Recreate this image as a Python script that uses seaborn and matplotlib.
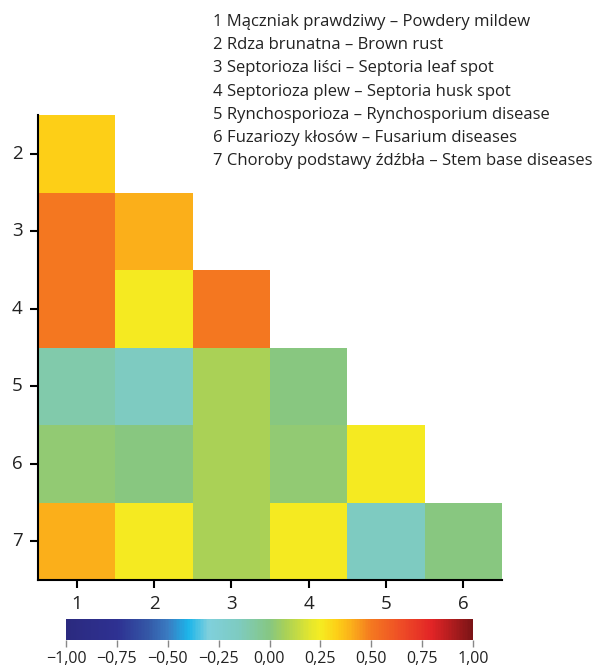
import numpy as np
import pandas as pd
import seaborn as sns
import matplotlib.pyplot as plt
from matplotlib.colors import LinearSegmentedColormap
from matplotlib.ticker import FuncFormatter

# correlation values (rows 2..7 vs columns 1..6), lower triangle only
rows = ["2", "3", "4", "5", "6", "7"]
cols = ["1", "2", "3", "4", "5", "6"]
r2 = [0.33]
r3 = [0.50, 0.40]
r4 = [0.50, 0.25, 0.50]
r5 = [-0.10, -0.15, 0.08, 0.00]
r6 = [0.03, 0.00, 0.08, 0.03, 0.25]
r7 = [0.40, 0.25, 0.08, 0.25, -0.15, 0.00]

legend_lines = [
    "1 Mączniak prawdziwy – Powdery mildew",
    "2 Rdza brunatna – Brown rust",
    "3 Septorioza liści – Septoria leaf spot",
    "4 Septorioza plew – Septoria husk spot",
    "5 Rynchosporioza – Rynchosporium disease",
    "6 Fuzariozy kłosów – Fusarium diseases",
    "7 Choroby podstawy źdźbła – Stem base diseases",
]
cbar_ticks = [-1.0, -0.75, -0.5, -0.25, 0.0, 0.25, 0.5, 0.75, 1.0]

mat = np.full((6, 6), np.nan)
for i, r in enumerate([r2, r3, r4, r5, r6, r7]):
    mat[i, :len(r)] = r
df = pd.DataFrame(mat, index=rows, columns=cols)

# jet-like palette as in the figure
anchors = [
    (-1.00, "#2b2a7f"), (-0.75, "#2e3192"), (-0.60, "#3457a6"),
    (-0.50, "#3a7cc2"), (-0.40, "#1cb5ea"), (-0.30, "#7fd0dc"),
    (-0.15, "#7ecbc0"), (0.00, "#86c782"), (0.08, "#a9d157"),
    (0.20, "#e3e62e"), (0.25, "#f5ec22"), (0.33, "#fdd017"),
    (0.40, "#fbb11a"), (0.50, "#f47920"), (0.65, "#ee4c26"),
    (0.80, "#e22426"), (1.00, "#7b1416"),
]
cmap = LinearSegmentedColormap.from_list(
    "jetlike", [((v + 1) / 2, c) for v, c in anchors], N=256)

sns.set_style("white")
plt.rcParams["font.family"] = ["Open Sans", "DejaVu Sans"]

fig = plt.figure(figsize=(5.99, 6.66), dpi=100)
ax = fig.add_axes([38 / 599, 1 - 580 / 666, 464 / 599, 465 / 666])
cax = fig.add_axes([66 / 599, 1 - 640 / 666, 407 / 599, 21 / 666])

sns.heatmap(df, ax=ax, cmap=cmap, vmin=-1, vmax=1, cbar=True, cbar_ax=cax,
            cbar_kws={"orientation": "horizontal", "ticks": cbar_ticks})

for s in ["left", "bottom"]:
    ax.spines[s].set_visible(True)
    ax.spines[s].set_color("black")
    ax.spines[s].set_linewidth(1.5)
ax.tick_params(axis="both", bottom=True, left=True, length=6, width=1.5,
               color="black", labelsize=13.5, labelcolor="#222222", pad=5)
ax.tick_params(axis="y", rotation=0)

cax.xaxis.set_major_formatter(
    FuncFormatter(lambda v, p: f"{v:.2f}".replace(".", ",").replace("-", "\u2212")))
cax.tick_params(axis="x", bottom=True, length=5, width=1, color="#888888",
                labelsize=11.5, labelcolor="#222222", pad=3)
cb = ax.collections[0].colorbar
cb.outline.set_visible(False)

for k, line in enumerate(legend_lines):
    fig.text(213 / 599, 1 - (22 + 23.2 * k) / 666, line, fontsize=12,
             color="#222222", va="center", ha="left")

plt.savefig("out.png", dpi=100)
